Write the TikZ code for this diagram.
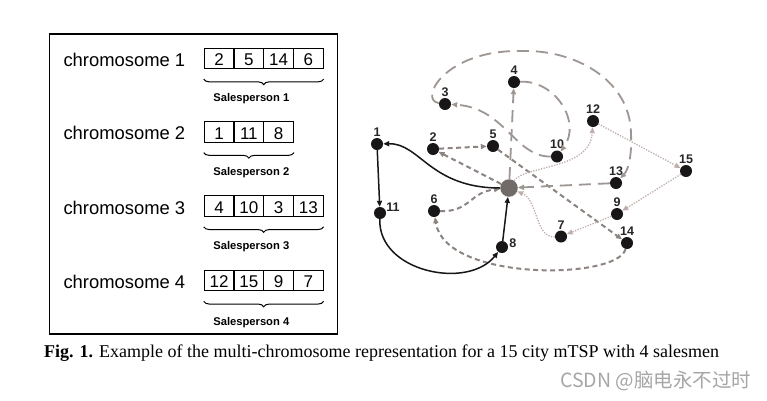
\documentclass[tikz,border=0pt]{standalone}
\usepackage{fontspec}
\setmainfont{Liberation Serif}
\setsansfont{Liberation Sans}
\newfontfamily\cjkfont{Noto Sans CJK SC}
\usetikzlibrary{arrows.meta,decorations.pathreplacing}
\definecolor{dashgray}{RGB}{140,132,128}
\definecolor{longgray}{RGB}{158,150,146}
\definecolor{dotpink}{RGB}{192,174,172}
\definecolor{depotgray}{RGB}{112,106,104}
\definecolor{nodeblack}{RGB}{24,22,22}
\tikzset{
 cityn/.style={circle, fill=nodeblack, inner sep=0pt, minimum size=12pt},
 depotn/.style={circle, fill=depotgray, inner sep=0pt, minimum size=17.5pt},
 lbl/.style={font=\sffamily\bfseries\fontsize{12.5}{12.5}\selectfont, inner sep=1pt, text=black!85},
 chrom/.style={font=\sffamily\fontsize{18.4}{18.4}\selectfont, anchor=west, inner sep=0pt},
 cell/.style={draw, line width=1.1pt, minimum width=29.7pt, minimum height=20.5pt, inner sep=0pt, text height=14.4pt, text depth=0pt, font=\sffamily\fontsize{17}{17}\selectfont},
 sptext/.style={font=\sffamily\bfseries\fontsize{11.2}{11.2}\selectfont, inner sep=0pt},
 brc/.style={decorate, decoration={brace, mirror, amplitude=5.5pt}, line width=1pt},
 tipg/.style={-{Triangle[length=6pt,width=5pt]}},
 sp1/.style={draw=dashgray, line width=2pt, dash pattern=on 5pt off 3.5pt, tipg},
 sp2/.style={draw=nodeblack, line width=1.5pt, tipg},
 sp3/.style={draw=longgray, line width=1.8pt, dash pattern=on 12pt off 7pt, tipg},
 sp4/.style={draw=dotpink, line width=1.3pt, dash pattern=on 1.3pt off 1.4pt, tipg},
}
\begin{document}
\begin{tikzpicture}[x=1pt,y=-1pt]
\useasboundingbox[fill=white] (0,0) rectangle (767,400);
% left panel frame
\draw[line width=1.3pt] (49.3,34) rectangle (337.7,334);
% chromosome labels
\node[chrom] (ch1) at (63.3,59.5) {chromosome 1};
\node[chrom] (ch2) at (63.3,133) {chromosome 2};
\node[chrom] (ch3) at (63.3,207.5) {chromosome 3};
\node[chrom] (ch4) at (63.3,282) {chromosome 4};
% row 1
\node[cell] (c11) at (219.15,58.3) {2};
\node[cell] (c12) at (248.85,58.3) {5};
\node[cell] (c13) at (278.55,58.3) {14};
\node[cell] (c14) at (308.25,58.3) {6};
\draw[brc] ([yshift=-10pt]c11.south west) -- ([yshift=-10pt]c14.south east);
\node[sptext] (s1) at (251.3,98.5) {Salesperson 1};
% row 2
\node[cell] (c21) at (219.15,131.8) {1};
\node[cell] (c22) at (248.85,131.8) {11};
\node[cell] (c23) at (278.55,131.8) {8};
\draw[brc] ([yshift=-10pt]c21.south west) -- ([yshift=-10pt]c23.south east);
\node[sptext] (s2) at (251.3,172.5) {Salesperson 2};
% row 3
\node[cell] (c31) at (219.15,206) {4};
\node[cell] (c32) at (248.85,206) {10};
\node[cell] (c33) at (278.55,206) {3};
\node[cell] (c34) at (308.25,206) {13};
\draw[brc] ([yshift=-10pt]c31.south west) -- ([yshift=-10pt]c34.south east);
\node[sptext] (s3) at (251.3,247) {Salesperson 3};
% row 4
\node[cell] (c41) at (219.15,280.5) {12};
\node[cell] (c42) at (248.85,280.5) {15};
\node[cell] (c43) at (278.55,280.5) {9};
\node[cell] (c44) at (308.25,280.5) {7};
\draw[brc] ([yshift=-10pt]c41.south west) -- ([yshift=-10pt]c44.south east);
\node[sptext] (s4) at (251.3,322.5) {Salesperson 4};

% graph nodes
\node[depotn] (d) at (509,188) {};
\node[cityn, label={[lbl]above:1}] (n1) at (377,144) {};
\node[cityn, label={[lbl]above:2}] (n2) at (433,149) {};
\node[cityn, label={[lbl]above:3}] (n3) at (445,104) {};
\node[cityn, label={[lbl]above:4}] (n4) at (514,82) {};
\node[cityn, label={[lbl]above:5}] (n5) at (493,146) {};
\node[cityn, label={[lbl]above:6}] (n6) at (434,211) {};
\node[cityn, label={[lbl]above:7}] (n7) at (561,236.5) {};
\node[cityn, label={[lbl,yshift=4pt]right:8}] (n8) at (502,247) {};
\node[cityn, label={[lbl]above:9}] (n9) at (617,214) {};
\node[cityn, label={[lbl]above:10}] (n10) at (557,156.5) {};
\node[cityn, label={[lbl,yshift=6pt,xshift=-1pt]right:11}] (n11) at (380,213) {};
\node[cityn, label={[lbl]above:12}] (n12) at (593,121) {};
\node[cityn, label={[lbl]above:13}] (n13) at (616,183) {};
\node[cityn, label={[lbl]above:14}] (n14) at (627,243) {};
\node[cityn, label={[lbl]above:15}] (n15) at (686,171) {};

% salesperson 1
\draw[sp1] (d) -- (n2);
\draw[sp1] (n2) -- (n5);
\draw[sp1] (n5) -- (n14);
\draw[sp1] (n14) .. controls (618,280) and (445,282) .. (n6);
\draw[sp1] (n6) .. controls (470,212) and (470,192) .. (d);
% salesperson 2
\draw[sp2] (d) .. controls (430,188) and (420,143) .. (n1);
\draw[sp2] (n1) -- (n11);
\draw[sp2] (n11) .. controls (378,272) and (468,290) .. (n8);
\draw[sp2] (n8) -- (d);
% salesperson 3
\draw[sp3] (d) -- (n4);
\draw[sp3] (n4) .. controls (555,80) and (582,122) .. (n10);
\draw[sp3] (n10) .. controls (515,157) and (505,108) .. (n3);
\draw[sp3] (n3) .. controls (418,100) and (445,50) .. (520,51) .. controls (575,49) and (630,80) .. (631,133) .. controls (632,158) and (628,170) .. (n13);
\draw[sp3] (n13) -- (d);
% salesperson 4
\draw[sp4] (d) .. controls (525,165) and (590,170) .. (n12);
\draw[sp4] (n12) -- (n15);
\draw[sp4] (n15) -- (n9);
\draw[sp4] (n9) -- (n7);
\draw[sp4] (n7) .. controls (535,238) and (538,200) .. (d);

% caption
\node[anchor=base west, inner sep=0pt, font=\fontsize{18}{18}\selectfont] (cap) at (44,357) {\textbf{Fig. 1.} Example of the multi-chromosome representation for a 15 city mTSP with 4 salesmen};
\node[anchor=west, inner sep=0pt, font=\cjkfont\fontsize{19.5}{19.5}\selectfont, text=black!35] (wm) at (560,381) {CSDN @脑电永不过时};
\end{tikzpicture}
\end{document}
